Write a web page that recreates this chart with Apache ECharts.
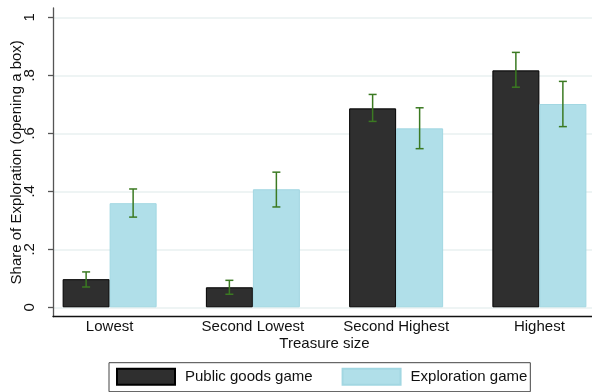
<!DOCTYPE html>
<html>
<head>
<meta charset="utf-8">
<script src="https://cdn.jsdelivr.net/npm/echarts@6/dist/echarts.min.js"></script>
<style>
  html, body { margin: 0; padding: 0; background: #fff; }
  #chart { width: 592px; height: 392px; }
</style>
</head>
<body>
<div id="chart"></div>
<script>
// Treasure-size categories
const categories = ['Lowest', 'Second Lowest', 'Second Highest', 'Highest'];

// Public goods game: share exploring and confidence bounds
const publicShare = [0.097, 0.069, 0.686, 0.817];
const publicLow   = [0.070, 0.045, 0.641, 0.759];
const publicHigh  = [0.122, 0.093, 0.734, 0.879];

// Exploration game: share exploring and confidence bounds
const exploreShare = [0.359, 0.407, 0.617, 0.701];
const exploreLow   = [0.311, 0.346, 0.547, 0.623];
const exploreHigh  = [0.408, 0.466, 0.688, 0.779];

// Y tick values and their labels
const yTickValues = [0, 0.2, 0.4, 0.6, 0.8, 1];
const yTickLabels = ['0', '.2', '.4', '.6', '.8', '1'];

const FONT = "'Liberation Sans', Arial, sans-serif";
const BAR_W = 47;
const ERR_COLOR = '#3b7a22';

function errorSeries(name, low, high, shift) {
  return {
    type: 'custom',
    name: name + ' CI',
    xAxisIndex: 2,
    yAxisIndex: 2,
    z: 5,
    silent: true,
    data: categories.map((c, i) => [i, low[i], high[i]]),
    renderItem: function (params, api) {
      const lo = api.coord([api.value(0), api.value(1)]);
      const hi = api.coord([api.value(0), api.value(2)]);
      const x = lo[0] + shift;
      const cap = 4;
      const style = { stroke: ERR_COLOR, lineWidth: 1.5 };
      return {
        type: 'group',
        children: [
          { type: 'line', shape: { x1: x, y1: lo[1], x2: x, y2: hi[1] }, style: style },
          { type: 'line', shape: { x1: x - cap, y1: lo[1], x2: x + cap, y2: lo[1] }, style: style },
          { type: 'line', shape: { x1: x - cap, y1: hi[1], x2: x + cap, y2: hi[1] }, style: style }
        ]
      };
    }
  };
}

const chart = echarts.init(document.getElementById('chart'), null, { renderer: 'canvas' });

chart.setOption({
  animation: false,
  backgroundColor: '#ffffff',
  textStyle: { fontFamily: FONT },
  grid: [
    // value scale with ticks and gridlines
    { left: 53, right: 0, top: 17.3, height: 290, containLabel: false, outerBoundsMode: 'none' },
    // axis frame lines
    { left: 53, right: 0, top: 8, height: 308.7, containLabel: false, outerBoundsMode: 'none' },
    // bars (the last band runs past the right edge)
    { left: 38, width: 573, top: 17.3, height: 290, containLabel: false, outerBoundsMode: 'none' }
  ],
  xAxis: [
    { gridIndex: 0, type: 'value', show: false, min: 0, max: 1 },
    {
      gridIndex: 1, type: 'value', min: 0, max: 1,
      axisLine: { show: true, lineStyle: { color: '#111', width: 1.3 } },
      axisTick: { show: false }, axisLabel: { show: false }, splitLine: { show: false }
    },
    {
      gridIndex: 2, type: 'category', data: categories, boundaryGap: true,
      axisLine: { show: false }, axisTick: { show: false }, splitLine: { show: false },
      axisLabel: { color: '#111', fontSize: 15, fontFamily: FONT, margin: 12, interval: 0 },
      name: 'Treasure size', nameLocation: 'middle', nameGap: 29, nameMoveOverlap: false,
      nameTextStyle: { color: '#111', fontSize: 15, fontFamily: FONT }
    }
  ],
  yAxis: [
    {
      gridIndex: 0, type: 'value', min: 0, max: 1, interval: 0.2,
      axisLine: { show: false },
      axisTick: { show: true, length: 5, lineStyle: { color: '#555', width: 1.3 } },
      axisLabel: {
        rotate: 90, margin: 16, color: '#111', fontSize: 15, fontFamily: FONT,
        formatter: function (v) {
          const k = yTickValues.findIndex(t => Math.abs(t - v) < 1e-6);
          return k >= 0 ? yTickLabels[k] : '';
        }
      },
      splitLine: { show: true, lineStyle: { color: '#e8f0f1', width: 1.5 } },
      name: 'Share of Exploration (opening a box)', nameLocation: 'middle', nameGap: 29,
      nameMoveOverlap: false,
      nameTextStyle: { color: '#111', fontSize: 15, fontFamily: FONT }
    },
    {
      gridIndex: 1, type: 'value', min: 0, max: 1,
      axisLine: { show: true, lineStyle: { color: '#555', width: 1.3 } },
      axisTick: { show: false }, axisLabel: { show: false }, splitLine: { show: false }
    },
    { gridIndex: 2, type: 'value', min: 0, max: 1, show: false }
  ],
  legend: {
    data: [
      { name: 'Public goods game', icon: 'rect' },
      { name: 'Exploration game', icon: 'rect' }
    ],
    left: 109, top: 362.7,
    orient: 'horizontal',
    itemWidth: 58, itemHeight: 16, itemGap: 29,
    padding: [5, 3, 6, 7],
    borderColor: '#444', borderWidth: 1,
    textStyle: { color: '#111', fontSize: 15, fontFamily: FONT, padding: [0, 0, 0, 5] },
    selectedMode: false
  },
  series: [
    {
      name: 'Public goods game', type: 'bar', xAxisIndex: 2, yAxisIndex: 2,
      data: publicShare, barWidth: BAR_W, barGap: '0%',
      itemStyle: { color: '#2f2f2f', borderColor: '#000', borderWidth: 1 }
    },
    {
      name: 'Exploration game', type: 'bar', xAxisIndex: 2, yAxisIndex: 2,
      data: exploreShare, barWidth: BAR_W, barGap: '0%',
      itemStyle: { color: '#b0dfe9', borderColor: '#a2d7e2', borderWidth: 1 }
    },
    errorSeries('Public goods game', publicLow, publicHigh, -BAR_W / 2),
    errorSeries('Exploration game', exploreLow, exploreHigh, BAR_W / 2)
  ]
});
</script>
</body>
</html>
